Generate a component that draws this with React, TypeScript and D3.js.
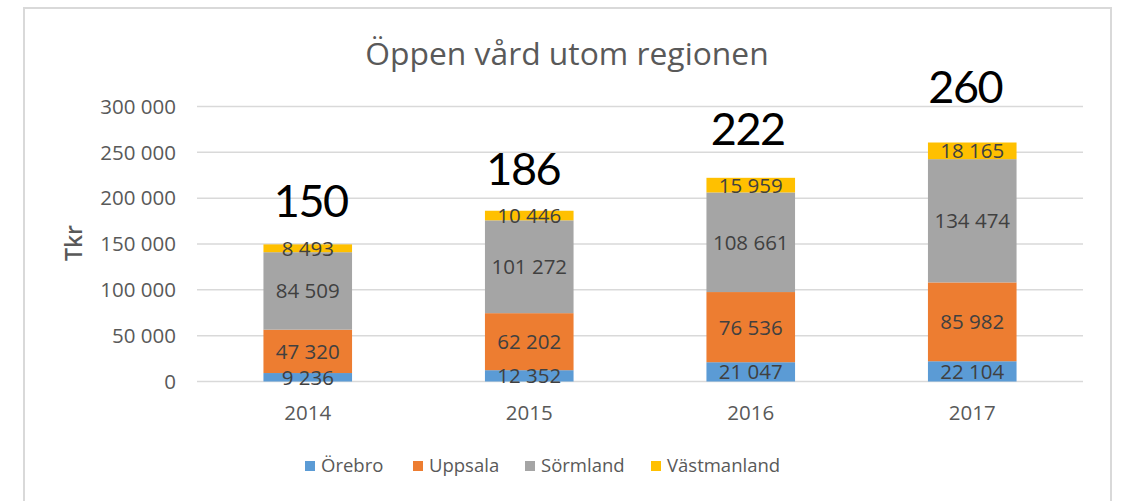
import React from "react";
import * as d3 from "d3";

const years = ["2014", "2015", "2016", "2017"];
const seriesNames = ["Örebro", "Uppsala", "Sörmland", "Västmanland"];
const orebro = [9236, 12352, 21047, 22104];
const uppsala = [47320, 62202, 76536, 85982];
const sormland = [84509, 101272, 108661, 134474];
const vastmanland = [8493, 10446, 15959, 18165];
const totalLabels = ["150", "186", "222", "260"];
const yTicks = [0, 50000, 100000, 150000, 200000, 250000, 300000];
const colors = ["#5B9BD5", "#ED7D31", "#A5A5A5", "#FFC000"];

const W = 1127;
const H = 501;
const plot = { left: 197, right: 1083, top: 106.5, bottom: 381.5 };
const bigDy = [27, 26, 33, 40];
const bigDx = [3, -6, -3, -7];

const locale = d3.formatLocale({ decimal: ",", thousands: " ", grouping: [3], currency: ["", ""] });
const fmt = locale.format(",d");

export default function App() {
  const seriesValues = [orebro, uppsala, sormland, vastmanland];
  const rows = years.map((y, i) => {
    const r: any = { year: y };
    seriesNames.forEach((s, k) => (r[s] = seriesValues[k][i]));
    return r;
  });
  const stack = d3.stack<any>().keys(seriesNames)(rows);
  const x = d3.scaleBand().domain(years).range([plot.left, plot.right]).paddingInner(0.6).paddingOuter(0.3);
  const y = d3.scaleLinear().domain([0, 300000]).range([plot.bottom, plot.top]);
  const font = "'Open Sans', 'Noto Sans', sans-serif";

  const legendX = [305, 413, 525, 651];

  return (
    <svg width={W} height={H} style={{ position: "absolute", left: 0, top: 0, background: "#fff" }}>
      <rect x={24} y={8} width={1087} height={520} fill="#fff" stroke="#d9d9d9" strokeWidth={2} />
      <text x={567} y={65} textAnchor="middle" fontFamily={font} fontSize={31.8} fill="#595959">
        Öppen vård utom regionen
      </text>
      {yTicks.map((t) => (
        <g key={t}>
          <line x1={plot.left} x2={plot.right} y1={y(t)} y2={y(t)} stroke="#d9d9d9" strokeWidth={1.5} />
          <text x={176} y={y(t)} dy="0.35em" textAnchor="end" fontFamily={font} fontSize={20.5} fill="#595959">
            {fmt(t)}
          </text>
        </g>
      ))}
      <text
        transform={`translate(82,243) rotate(-90)`}
        textAnchor="middle"
        fontFamily={font}
        fontSize={23}
        fontWeight={600}
        fill="#595959"
      >
        Tkr
      </text>
      {stack.map((s, k) => (
        <g key={s.key}>
          {s.map((d, i) => (
            <rect
              key={i}
              x={x(years[i])}
              y={y(d[1])}
              width={x.bandwidth()}
              height={y(d[0]) - y(d[1])}
              fill={colors[k]}
            />
          ))}
        </g>
      ))}
      {stack.map((s, k) => (
        <g key={s.key + "l"}>
          {s.map((d, i) => (
            <text
              key={i}
              x={(x(years[i]) as number) + x.bandwidth() / 2}
              y={(y(d[0]) + y(d[1])) / 2}
              dy="0.36em"
              textAnchor="middle"
              fontFamily={font}
              fontSize={20.5}
              fill="#404040"
            >
              {fmt(seriesValues[k][i])}
            </text>
          ))}
        </g>
      ))}
      {years.map((yr, i) => (
        <text
          key={yr}
          x={(x(yr) as number) + x.bandwidth() / 2}
          y={413}
          dy="0.35em"
          textAnchor="middle"
          fontFamily={font}
          fontSize={20.5}
          fill="#595959"
        >
          {yr}
        </text>
      ))}
      {years.map((yr, i) => {
        const top = stack[stack.length - 1][i][1];
        return (
          <text
            key={yr + "t"}
            x={(x(yr) as number) + x.bandwidth() / 2 + bigDx[i]}
            y={y(top) - bigDy[i]}
            textAnchor="middle"
            fontFamily="Lato, 'Open Sans', sans-serif"
            fontSize={45}
            letterSpacing={-1.5}
            fill="#000"
          >
            {totalLabels[i]}
          </text>
        );
      })}
      {seriesNames.map((n, k) => (
        <g key={n} transform={`translate(${legendX[k]},461)`}>
          <rect x={0} y={0} width={10} height={10} fill={colors[k]} />
          <text x={16} y={5} dy="0.35em" fontFamily={font} fontSize={18.5} fill="#595959">
            {n}
          </text>
        </g>
      ))}
    </svg>
  );
}
